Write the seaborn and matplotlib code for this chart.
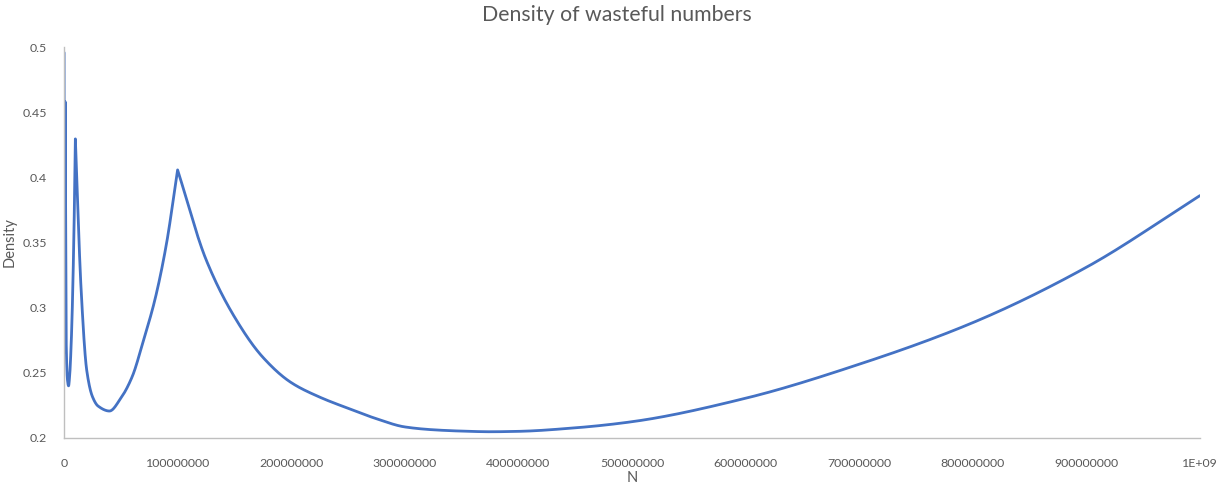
import numpy as np
import pandas as pd
import matplotlib
matplotlib.use("Agg")
import matplotlib.pyplot as plt
import seaborn as sns
from matplotlib.ticker import FixedLocator

# ---- data ----
n_values = [
    100000, 200000, 300000, 400000, 500000, 600000, 700000, 800000, 900000,
    1000000, 2000000, 3000000, 4000000, 5000000, 6000000, 7000000, 8000000, 9000000,
    10000000, 15000000, 20000000, 25000000, 30000000, 40000000, 50000000, 60000000,
    70000000, 80000000, 90000000,
    100000000, 125000000, 150000000, 175000000,
    200000000, 225000000, 250000000, 275000000, 300000000, 325000000,
    350000000, 375000000, 400000000, 450000000, 500000000, 600000000,
    700000000, 800000000, 900000000, 1000000000,
]
density = [
    0.4957, 0.300, 0.275, 0.266, 0.270, 0.290, 0.320, 0.360, 0.400,
    0.458, 0.270, 0.245, 0.240, 0.248, 0.265, 0.290, 0.325, 0.370,
    0.4295, 0.315, 0.252, 0.2318, 0.2245, 0.2207, 0.2305, 0.247,
    0.275, 0.306, 0.348,
    0.4057, 0.337, 0.293, 0.262,
    0.2425, 0.2314, 0.2228, 0.2148, 0.2085, 0.2063,
    0.2053, 0.2048, 0.2051, 0.2078, 0.2125, 0.2305,
    0.2566, 0.2885, 0.331, 0.386,
]
x_ticks = [0, 100000000, 200000000, 300000000, 400000000, 500000000,
           600000000, 700000000, 800000000, 900000000, 1000000000]
x_tick_labels = ["0", "100000000", "200000000", "300000000", "400000000",
                 "500000000", "600000000", "700000000", "800000000",
                 "900000000", "1E+09"]
y_ticks = [0.2, 0.25, 0.3, 0.35, 0.4, 0.45, 0.5]
y_tick_labels = ["0.2", "0.25", "0.3", "0.35", "0.4", "0.45", "0.5"]

X_MIN, X_MAX = 0, 1000000000
Y_MIN, Y_MAX = 0.2, 0.5


def smooth_line(xs, ys, steps=40):
    """Shape-preserving cubic (PCHIP-like) smoothing of the series, with a
    sharp corner kept at each local maximum (as in the reference)."""
    x = np.asarray(xs, float)
    y = np.asarray(ys, float)
    n = len(x)
    h = np.diff(x)
    d = np.diff(y) / h
    mL = np.zeros(n)   # derivative used at the end of the left segment
    mR = np.zeros(n)   # derivative used at the start of the right segment
    mL[0] = mR[0] = d[0]
    mL[-1] = mR[-1] = d[-1]
    for k in range(1, n - 1):
        if d[k - 1] > 0 and d[k] < 0:          # peak: keep it sharp
            mL[k] = d[k - 1]
            mR[k] = d[k]
        elif d[k - 1] * d[k] <= 0:              # valley: rounded
            mL[k] = mR[k] = 0.0
        else:
            w1 = 2 * h[k] + h[k - 1]
            w2 = h[k] + 2 * h[k - 1]
            m = (w1 + w2) / (w1 / d[k - 1] + w2 / d[k])
            mL[k] = mR[k] = m
    sx, sy = [x[0]], [y[0]]
    t = np.linspace(0, 1, steps)[1:]
    for k in range(n - 1):
        h00 = 2 * t ** 3 - 3 * t ** 2 + 1
        h10 = t ** 3 - 2 * t ** 2 + t
        h01 = -2 * t ** 3 + 3 * t ** 2
        h11 = t ** 3 - t ** 2
        yy = h00 * y[k] + h10 * h[k] * mR[k] + h01 * y[k + 1] + h11 * h[k] * mL[k + 1]
        sx.extend(x[k] + t * h[k])
        sy.extend(yy)
    return np.array(sx), np.array(sy)


sx, sy = smooth_line(n_values, density)
curve = pd.DataFrame({"N": sx, "Density": sy})

sns.set_theme(style="white")
plt.rcParams["font.family"] = ["Lato", "DejaVu Sans"]

TEXT = "#595959"
AXIS = "#BFBFBF"
LINE = "#4472C4"

fig = plt.figure(figsize=(12.27, 4.93), dpi=100)
ax = fig.add_axes([64 / 1227, 1 - 438 / 493, (1200 - 64) / 1227, (438 - 47) / 493])

sns.lineplot(data=curve, x="N", y="Density", sort=False, estimator=None,
             color=LINE, linewidth=2.0, ax=ax)

ax.set_xlim(X_MIN, X_MAX)
ax.set_ylim(Y_MIN, Y_MAX)
ax.xaxis.set_major_locator(FixedLocator(x_ticks))
ax.set_xticklabels(x_tick_labels)
ax.yaxis.set_major_locator(FixedLocator(y_ticks))
ax.set_yticklabels(y_tick_labels)

ax.tick_params(axis="x", length=0, pad=14.5, labelsize=8.9, labelcolor=TEXT)
ax.tick_params(axis="y", length=0, pad=12.5, labelsize=8.9, labelcolor=TEXT)

for side in ["top", "right"]:
    ax.spines[side].set_visible(False)
for side in ["left", "bottom"]:
    ax.spines[side].set_color(AXIS)
    ax.spines[side].set_linewidth(1.0)
ax.grid(False)

ax.set_xlabel("N", fontsize=10.5, color=TEXT)
ax.xaxis.label.set_va("center")
ax.xaxis.set_label_coords(0.5, (438 - 478) / 391)
ax.set_ylabel("Density", fontsize=10.5, color=TEXT)
ax.yaxis.label.set_va("center")
ax.yaxis.set_label_coords((10 - 64) / 1136, (438 - 242) / 391)
fig.text(617 / 1227, 1 - 15 / 493, "Density of wasteful numbers",
         ha="center", va="center", fontsize=15.3, color=TEXT)

fig.savefig("out.png", dpi=100, facecolor="white")
